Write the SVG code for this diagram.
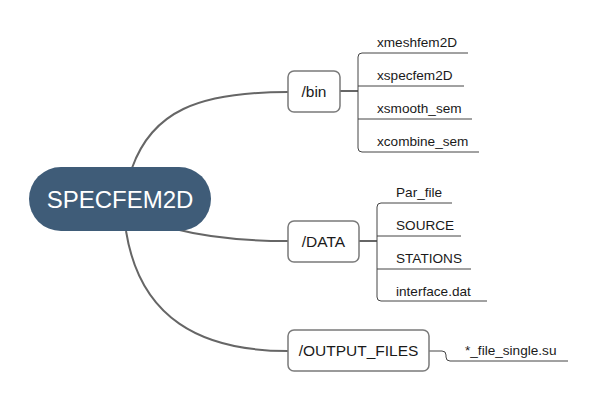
<svg xmlns="http://www.w3.org/2000/svg" width="598" height="401" viewBox="0 0 598 401">
<style>
text{font-family:"Liberation Sans",Arial,sans-serif;fill:#1a1a1a}
.main{fill:none;stroke:#666;stroke-width:2}
.br{fill:none;stroke:#444;stroke-width:1}
.box{fill:#fff;stroke:#7a7a7a;stroke-width:1.5}
.leaf{font-size:13.6px}
.lbl{font-size:15.5px;text-anchor:middle;dominant-baseline:central}
</style>
<rect width="598" height="401" fill="#fff"/>
<g id="connectors">
<path class="main" d="M132,168 C152,112 197,92 288,92"/>
<path class="main" d="M175,229 C210,238 250,241 288,241"/>
<path class="main" d="M126,231 C140,318 200,351 288,351"/>
<path class="main" d="M340,91 H358"/>
<path class="main" d="M359,241 H377"/>
<path class="br" d="M468,53 H362 Q358,53 358,57 V148 Q358,152 362,152 H479 M358,86 H464 M358,119 H472"/>
<path class="br" d="M452,203 H381 Q377,203 377,207 V297 Q377,301 381,301 H487 M377,236 H461 M377,269 H471"/>
<path class="br" d="M429,351 H442 Q446,351 446,355 V357 Q446,361 450,361 H568"/>
</g>
<g id="root">
<rect x="29" y="167" width="182" height="64" rx="32" fill="#3f5c78"/>
<text x="120" y="199" style="font-size:24px;fill:#fff;text-anchor:middle;dominant-baseline:central">SPECFEM2D</text>
</g>
<g id="bin">
<rect class="box" x="288" y="71" width="52" height="41" rx="6"/>
<text class="lbl" x="314" y="91.5">/bin</text>
</g>
<g id="data">
<rect class="box" x="288" y="221" width="71" height="41" rx="6"/>
<text class="lbl" x="323.5" y="241.5">/DATA</text>
</g>
<g id="output">
<rect class="box" x="288" y="330" width="141" height="41" rx="6"/>
<text class="lbl" x="358.5" y="350.5">/OUTPUT_FILES</text>
</g>
<g id="bin-leaves">
<text class="leaf" x="377" y="47">xmeshfem2D</text>
<text class="leaf" x="377" y="80">xspecfem2D</text>
<text class="leaf" x="377" y="113">xsmooth_sem</text>
<text class="leaf" x="377" y="146">xcombine_sem</text>
</g>
<g id="data-leaves">
<text class="leaf" x="396" y="197">Par_file</text>
<text class="leaf" x="396" y="230">SOURCE</text>
<text class="leaf" x="396" y="263">STATIONS</text>
<text class="leaf" x="396" y="296">interface.dat</text>
</g>
<g id="output-leaves">
<text class="leaf" x="465" y="355">*_file_single.su</text>
</g>
</svg>
